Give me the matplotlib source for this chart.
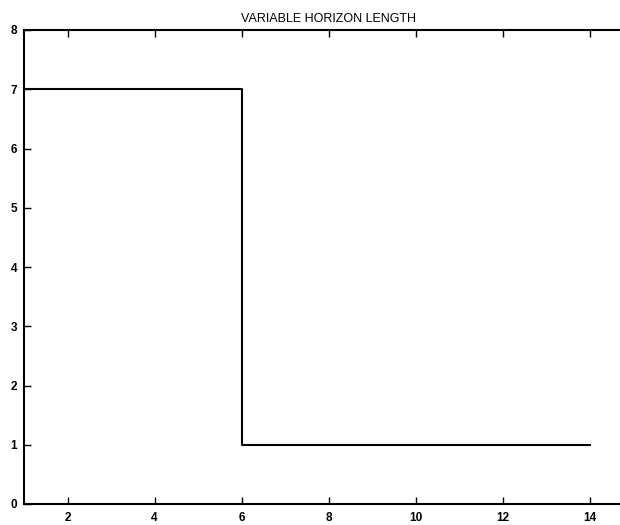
import matplotlib
matplotlib.use("Agg")
import matplotlib.pyplot as plt

# Data
step_x = [1, 2, 3, 4, 5, 6, 7, 8, 9, 10, 11, 12, 13, 14]
horizon = [7, 7, 7, 7, 7, 1, 1, 1, 1, 1, 1, 1, 1, 1]
xticks = [2, 4, 6, 8, 10, 12, 14]
yticks = [0, 1, 2, 3, 4, 5, 6, 7, 8]
title = "VARIABLE HORIZON LENGTH"

plt.rcParams['font.family'] = ['Liberation Sans', 'DejaVu Sans']

fig = plt.figure(figsize=(6.2, 5.25), dpi=100)
ax = fig.add_axes([24/620, 1-504/525, (633-24)/620, (504-30)/525])

ax.step(step_x, horizon, where='post', color='black', linewidth=1.5)

ax.set_xlim(1, 15)
ax.set_ylim(0, 8)
ax.set_xticks(xticks)
ax.set_yticks(yticks)
ax.set_xticklabels([str(t) for t in xticks], fontsize=8.5, fontweight='bold')
ax.set_yticklabels([str(t) for t in yticks], fontsize=8.5, fontweight='bold')
ax.tick_params(direction='in', top=True, right=True, length=5, width=1)
ax.tick_params(axis='x', pad=6)
ax.tick_params(axis='y', pad=5)
for s in ax.spines.values():
    s.set_linewidth(1.5)
ax.set_title(title, fontsize=9, pad=6)

fig.savefig("out.png", dpi=100)
